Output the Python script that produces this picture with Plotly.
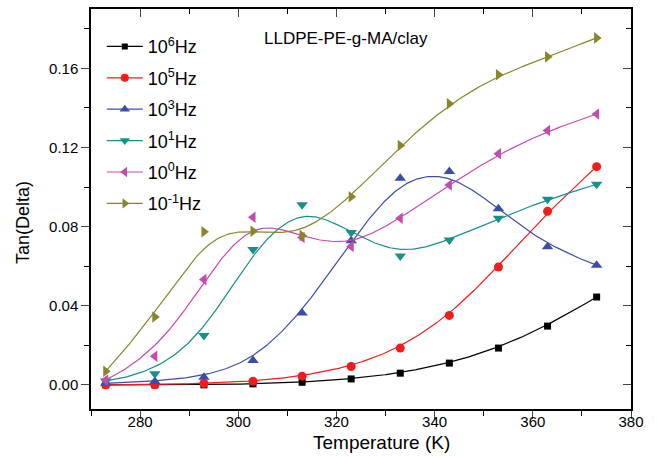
import numpy as np
import plotly.graph_objects as go

temperature = [273, 283, 293, 303, 313, 323, 333, 343, 353, 363, 373]

tan_1e6 = [0.0000, 0.0000, 0.0000, 0.0005, 0.0013, 0.0030, 0.0059, 0.0110, 0.0186, 0.0297, 0.0444]
tan_1e5 = [0.0000, 0.0000, 0.0007, 0.0018, 0.0044, 0.0093, 0.0186, 0.0351, 0.0596, 0.0877, 0.1103]
tan_1e3 = [0.0008, 0.0017, 0.0039, 0.0123, 0.0363, 0.0728, 0.1044, 0.1078, 0.0890, 0.0698, 0.0605]
tan_1e1 = [0.0020, 0.0056, 0.0250, 0.0684, 0.0910, 0.0770, 0.0652, 0.0732, 0.0842, 0.0938, 0.1014]
tan_1e0 = [0.0025, 0.0145, 0.0532, 0.0847, 0.0745, 0.0700, 0.0842, 0.1010, 0.1168, 0.1286, 0.1369]
tan_1em1 = [0.0069, 0.0343, 0.0774, 0.0777, 0.0755, 0.0951, 0.1210, 0.1421, 0.1568, 0.1658, 0.1754]

series_names = ["10<sup>6</sup>Hz", "10<sup>5</sup>Hz", "10<sup>3</sup>Hz",
                "10<sup>1</sup>Hz", "10<sup>0</sup>Hz", "10<sup>-1</sup>Hz"]
series_values = [tan_1e6, tan_1e5, tan_1e3, tan_1e1, tan_1e0, tan_1em1]
colors = ["#000000", "#F21C1C", "#3A4DA8", "#17908A", "#C24CAE", "#878629"]
symbols = ["square", "circle", "triangle-up", "triangle-down", "triangle-left", "triangle-right"]
msizes = [7, 9, 10, 10, 10, 10]

x_major = [280, 300, 320, 340, 360, 380]
x_minor = [270, 290, 310, 330, 350, 370]
y_major = [0.00, 0.04, 0.08, 0.12, 0.16]
y_minor = [0.02, 0.06, 0.10, 0.14, 0.18]
y_labels = ["0.00", "0.04", "0.08", "0.12", "0.16"]


def bspline(xs, ys, n=300, k=3):
    P = np.column_stack([xs, ys]).astype(float)
    m = len(P)
    knots = np.concatenate([np.zeros(k), np.arange(m - k + 1), np.full(k, m - k)]).astype(float)
    t = np.linspace(0, m - k - 1e-9, n)
    N = np.zeros((n, len(knots) - 1))
    for i in range(len(knots) - 1):
        N[:, i] = ((knots[i] <= t) & (t < knots[i + 1])).astype(float)
    for p in range(1, k + 1):
        newN = np.zeros((n, len(knots) - 1 - p))
        for i in range(len(knots) - 1 - p):
            d1 = knots[i + p] - knots[i]
            d2 = knots[i + p + 1] - knots[i + 1]
            a = (t - knots[i]) / d1 * N[:, i] if d1 > 0 else 0
            b = (knots[i + p + 1] - t) / d2 * N[:, i + 1] if d2 > 0 else 0
            newN[:, i] = a + b
        N = newN
    C = N @ P
    return C[:, 0], C[:, 1]


fig = go.Figure()
for name, vals, col, sym, ms in zip(series_names, series_values, colors, symbols, msizes):
    cx, cy = bspline(temperature, vals)
    fig.add_trace(go.Scatter(x=cx, y=cy, mode="lines", line=dict(color=col, width=1.2),
                             legendgroup=name, showlegend=False, hoverinfo="skip"))
    fig.add_trace(go.Scatter(x=temperature, y=vals, mode="markers", name=name,
                             marker=dict(symbol=sym, size=ms, color=col, line=dict(width=0)),
                             legendgroup=name, showlegend=False))
    # legend entry
    fig.add_trace(go.Scatter(x=[None], y=[None], mode="lines+markers", name=name,
                             line=dict(color=col, width=1.2),
                             marker=dict(symbol=sym, size=ms - 1, color=col),
                             legendgroup=name, showlegend=True))

fig.add_trace(go.Scatter(x=[None], y=[None], xaxis="x2", yaxis="y2", showlegend=False, hoverinfo="skip"))

font_family = "Liberation Sans, Arial, sans-serif"
xr = [270, 380]
yr = [-0.0122, 0.19]

common = dict(showline=True, linewidth=1.5, linecolor="black", showgrid=False, zeroline=False,
              tickwidth=1.2, ticklen=8)

fig.update_layout(
    width=657, height=457,
    margin=dict(l=91, r=26, t=9, b=48),
    paper_bgcolor="white", plot_bgcolor="white",
    font=dict(family=font_family, color="black", size=15),
    xaxis=dict(range=xr, tickvals=x_major, ticks="outside", tickfont=dict(size=15),
               ticklabelstandoff=-10,
               minor=dict(tickvals=x_minor, ticks="outside", ticklen=5, tickwidth=1.2, tickcolor="black"),
               **common),
    yaxis=dict(range=yr, tickvals=y_major, ticktext=y_labels, ticks="outside", tickfont=dict(size=15),
               minor=dict(tickvals=y_minor, ticks="outside", ticklen=5, tickwidth=1.2, tickcolor="black"),
               **common),
    xaxis2=dict(range=xr, overlaying="x", side="top", tickvals=x_major, ticks="inside",
                minor=dict(tickvals=x_minor, ticks="inside", ticklen=5, tickwidth=1.2, tickcolor="black"),
                showticklabels=False, **common),
    yaxis2=dict(range=yr, overlaying="y", side="right", tickvals=y_major, ticks="inside",
                minor=dict(tickvals=y_minor, ticks="inside", ticklen=5, tickwidth=1.2, tickcolor="black"),
                showticklabels=False, **common),
    legend=dict(x=0.02, y=0.952, xanchor="left", yanchor="top", bgcolor="rgba(0,0,0,0)",
                font=dict(size=18), tracegroupgap=5, itemwidth=36),
    showlegend=True,
    annotations=[
        dict(text="LLDPE-PE-g-MA/clay", xref="paper", yref="paper",
             x=(262 - 91) / 540, y=(409 - 38) / 400, xanchor="left", yanchor="middle",
             showarrow=False, font=dict(size=17)),
        dict(text="Temperature (K)", xref="paper", yref="paper",
             x=(381 - 91) / 540, y=(409 - 442) / 400, xanchor="center", yanchor="middle",
             showarrow=False, font=dict(size=19)),
        dict(text="Tan(Delta)", xref="paper", yref="paper", textangle=-90,
             x=(23 - 91) / 540, y=(409 - 223) / 400, xanchor="center", yanchor="middle",
             showarrow=False, font=dict(size=18)),
    ],
)

fig.write_html("out.html")
